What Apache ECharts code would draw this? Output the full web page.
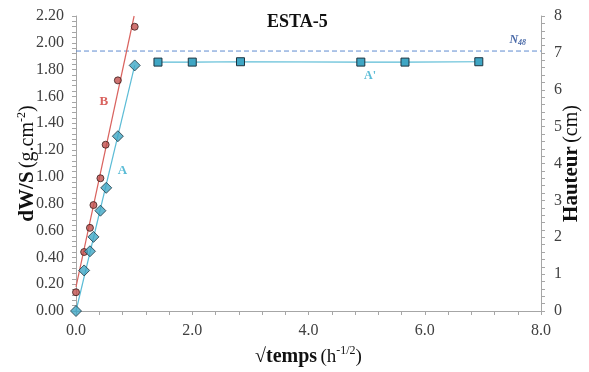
<!DOCTYPE html>
<html><head><meta charset="utf-8">
<script src="https://cdn.jsdelivr.net/npm/echarts@6/dist/echarts.min.js"></script>
<style>html,body{margin:0;padding:0;background:#fff}#c{width:589px;height:372px}</style>
</head><body><div id="c"></div>
<script>
// B : dW/S (g.cm-2), left axis
const bX = [0.00, 0.14, 0.24, 0.30, 0.42, 0.51, 0.72, 1.01];
const bY = [0.14, 0.44, 0.62, 0.79, 0.99, 1.24, 1.72, 2.12];
// B fit line
const bFitX = [0.00, 1.00];
const bFitY = [0.18, 2.20];
// A : Hauteur (cm), right axis
const aX = [0.00, 0.14, 0.24, 0.30, 0.42, 0.52, 0.72, 1.01];
const aY = [0.00, 1.10, 1.62, 2.01, 2.72, 3.34, 4.74, 6.66];
const aFitX = [0.00, 1.01];
const aFitY = [0.00, 6.66];
// A' plateau (right axis)
const apX = [1.41, 2.00, 2.83, 4.90, 5.66, 6.93];
const apY = [6.75, 6.75, 6.76, 6.75, 6.75, 6.76];
// N48 level (right axis)
const n48X = [0, 8];
const n48Y = [7.05, 7.05];
const leftTicks = {min: 0, max: 2.2, interval: 0.2};
const rightTicks = {min: 0, max: 8, interval: 1};
const xTicks = {min: 0, max: 8, interval: 2};

const zip = (xs, ys) => xs.map((x, i) => [x, ys[i]]);
const serif = 'Liberation Serif';
const axisCol = '#a6a6a6';
const lblCol = '#404040';

const chart = echarts.init(document.getElementById('c'));
chart.setOption({
  animation: false,
  title: {text: 'ESTA-5', left: 262, top: 8,
    textStyle: {fontFamily: serif, fontWeight: 'bold', fontSize: 18, color: '#111'}},
  grid: {left: 76, right: 48, top: 16, bottom: 61, containLabel: false, outerBoundsMode: 'none'},
  xAxis: {
    type: 'value', min: xTicks.min, max: xTicks.max, interval: xTicks.interval,
    axisLine: {lineStyle: {color: axisCol}},
    axisTick: {show: true, length: 4, lineStyle: {color: axisCol}},
    minorTick: {show: true, splitNumber: 5, length: 4, lineStyle: {color: axisCol}},
    splitLine: {show: false},
    axisLabel: {fontFamily: serif, fontSize: 16, color: lblCol, margin: 12,
      formatter: v => v.toFixed(1)},
    name: '{b|√temps} {r|(h}{s|-1/2}{r|)}', nameLocation: 'middle', nameGap: 34,
    nameTextStyle: {rich: {
      b: {fontFamily: serif, fontWeight: 'bold', fontSize: 20, color: '#111', lineHeight: 24},
      r: {fontFamily: serif, fontSize: 19, color: '#111', lineHeight: 24},
      s: {fontFamily: serif, fontSize: 12, color: '#111', verticalAlign: 'top', lineHeight: 24, padding: [0, 0, 10, 0]}
    }}
  },
  yAxis: [{
    type: 'value', min: leftTicks.min, max: leftTicks.max, interval: leftTicks.interval,
    axisLine: {show: true, lineStyle: {color: axisCol}},
    axisTick: {show: true, length: 4, lineStyle: {color: axisCol}},
    minorTick: {show: true, splitNumber: 5, length: 4, lineStyle: {color: axisCol}},
    splitLine: {show: false},
    axisLabel: {fontFamily: serif, fontSize: 16, color: lblCol, margin: 12,
      formatter: v => v.toFixed(2)},
    name: '{b|dW/S} {r|(g.cm}{s|-2}{r|)}', nameLocation: 'middle', nameGap: 36, nameMoveOverlap: false,
    nameTextStyle: {rich: {
      b: {fontFamily: serif, fontWeight: 'bold', fontSize: 21, color: '#111', lineHeight: 24},
      r: {fontFamily: serif, fontSize: 20, color: '#111', lineHeight: 24},
      s: {fontFamily: serif, fontSize: 12, color: '#111', verticalAlign: 'top', lineHeight: 24, padding: [0, 0, 10, 0]}
    }}
  }, {
    type: 'value', position: 'right', min: rightTicks.min, max: rightTicks.max, interval: rightTicks.interval,
    axisLine: {show: true, lineStyle: {color: axisCol}},
    axisTick: {show: true, length: 4, lineStyle: {color: axisCol}},
    minorTick: {show: true, splitNumber: 5, length: 4, lineStyle: {color: axisCol}},
    splitLine: {show: false},
    axisLabel: {fontFamily: serif, fontSize: 16, color: lblCol, margin: 13},
    name: '{b|Hauteur} {r|(cm)}', nameLocation: 'middle', nameGap: 20, nameRotate: 90, nameMoveOverlap: false,
    nameTextStyle: {rich: {
      b: {fontFamily: serif, fontWeight: 'bold', fontSize: 21, color: '#111'},
      r: {fontFamily: serif, fontSize: 20, color: '#111'}
    }}
  }],
  series: [
    {type: 'line', data: zip(n48X, n48Y), yAxisIndex: 1, symbol: 'none', z: 1,
      lineStyle: {color: '#5f8bd0', type: [5, 3], width: 1}},
    {type: 'line', data: zip(bFitX, bFitY), yAxisIndex: 0, symbol: 'none',
      lineStyle: {color: '#d9625e', width: 1.2}, z: 2,
      markPoint: {symbol: 'circle', symbolSize: 0, data: [{coord: [0.48, 1.56], value: 'B'}],
        label: {show: true, formatter: 'B', fontFamily: serif, fontWeight: 'bold', fontSize: 13, color: '#d9625e'}}},
    {type: 'line', data: zip(aFitX, aFitY), yAxisIndex: 1, symbol: 'none',
      lineStyle: {color: '#5bbcd6', width: 1.2}, z: 2,
      markPoint: {symbol: 'circle', symbolSize: 0, data: [{coord: [0.80, 3.80], value: 'A'}],
        label: {show: true, formatter: 'A', fontFamily: serif, fontWeight: 'bold', fontSize: 13, color: '#5bbcd6'}}},
    {type: 'scatter', data: zip(bX, bY), yAxisIndex: 0, symbol: 'circle', symbolSize: 7,
      itemStyle: {color: '#c0504d', borderColor: '#3b1d1c', borderWidth: 1}, z: 4},
    {type: 'scatter', data: zip(aX, aY), yAxisIndex: 1, symbol: 'diamond', symbolSize: 11,
      itemStyle: {color: '#3fa6c4', borderColor: '#1e3440', borderWidth: 1}, z: 4},
    {type: 'line', data: zip(apX, apY), yAxisIndex: 1, symbol: 'rect', symbolSize: 8,
      lineStyle: {color: '#5bbcd6', width: 1.2},
      itemStyle: {color: '#3fa6c4', borderColor: '#1e3440', borderWidth: 1}, z: 4,
      markPoint: {symbol: 'circle', symbolSize: 0, data: [{coord: [5.06, 6.38], value: "A'"}],
        label: {show: true, formatter: "A'", fontFamily: serif, fontWeight: 'bold', fontSize: 12, color: '#5bbcd6'}}},
    {type: 'scatter', data: [], yAxisIndex: 1,
      markPoint: {symbol: 'circle', symbolSize: 0, data: [{coord: [7.6, 7.35], value: 'N48'}],
        label: {show: true, formatter: '{n|N}{s|48}', rich: {
          n: {fontFamily: serif, fontStyle: 'italic', fontWeight: 'bold', fontSize: 12, color: '#4a6aa8'},
          s: {fontFamily: serif, fontStyle: 'italic', fontWeight: 'bold', fontSize: 8, color: '#4a6aa8', padding: [6, 0, 0, 0]}
        }}}}
  ]
});
</script></body></html>
